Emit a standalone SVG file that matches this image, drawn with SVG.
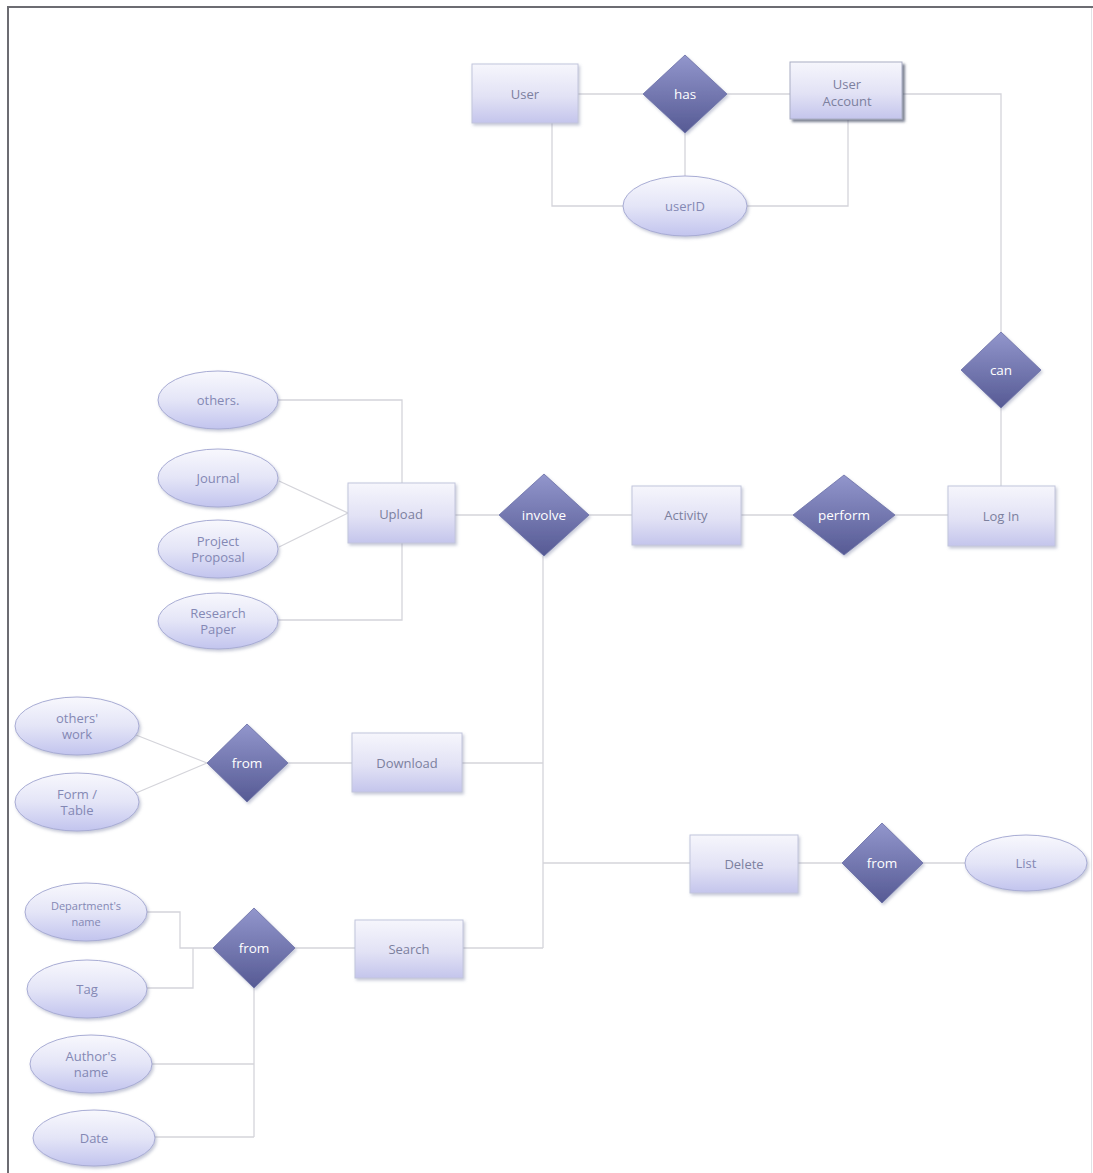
<svg xmlns="http://www.w3.org/2000/svg" width="1093" height="1173" viewBox="0 0 1093 1173">
  <defs>
    <linearGradient id="gEntity" x1="0" y1="0" x2="0" y2="1">
      <stop offset="0" stop-color="#f6f6fc"/>
      <stop offset="0.55" stop-color="#e2e2f5"/>
      <stop offset="1" stop-color="#c4c5ec"/>
    </linearGradient>
    <linearGradient id="gRel" x1="0" y1="0" x2="0" y2="1">
      <stop offset="0" stop-color="#9296cc"/>
      <stop offset="1" stop-color="#565a94"/>
    </linearGradient>
    <linearGradient id="gAttr" x1="0" y1="0" x2="0" y2="1">
      <stop offset="0" stop-color="#f8f8fd"/>
      <stop offset="0.5" stop-color="#e4e5f7"/>
      <stop offset="1" stop-color="#c2c4ee"/>
    </linearGradient>
    <filter id="shadow" x="-10%" y="-10%" width="125%" height="130%">
      <feDropShadow dx="1.5" dy="2" stdDeviation="1.5" flood-color="#8088a8" flood-opacity="0.45"/>
    </filter>
    <filter id="shadowDark" x="-10%" y="-10%" width="125%" height="130%">
      <feDropShadow dx="2.5" dy="2.5" stdDeviation="1" flood-color="#50566e" flood-opacity="0.75"/>
    </filter>
  </defs>
  <style>
    .frame { fill: none; stroke: #6c6c72; stroke-width: 2; }
    .edge { fill: none; stroke: #d4d4da; stroke-width: 1.3; }
    .entity { fill: url(#gEntity); stroke: #c2c5dc; stroke-width: 1; filter: url(#shadow); }
    .entity-dark { fill: url(#gEntity); stroke: #a9adc4; stroke-width: 1; filter: url(#shadowDark); }
    .rel { fill: url(#gRel); stroke: #6a6ea6; stroke-width: 0.8; filter: url(#shadow); }
    .attr { fill: url(#gAttr); stroke: #a8acd4; stroke-width: 1; filter: url(#shadow); }
    text { font-family: "Open Sans", "Liberation Sans", sans-serif; font-size: 13px; text-anchor: middle; dominant-baseline: central; }
    .t-entity { fill: #7c809e; }
    .t-rel { fill: #ffffff; font-size: 13.5px; }
    .t-attr { fill: #8488b4; }
    .t-small { font-size: 11px; }
  </style>

  <rect width="1093" height="1173" fill="#ffffff"/>
  <path class="frame" d="M8,1173 V7 H1093"/>
  <line x1="1091.5" y1="8" x2="1091.5" y2="1173" stroke="#e2e2e6" stroke-width="1"/>

  <g id="connectors">
    <!-- User / has / User Account / userID -->
    <path class="edge" d="M578,94 H643"/>
    <path class="edge" d="M727,94 H790"/>
    <path class="edge" d="M685,133 V176"/>
    <path class="edge" d="M552,123 V206 H623"/>
    <path class="edge" d="M848,120 V206 H747"/>
    <!-- User Account to Log In via can -->
    <path class="edge" d="M903,94 H1001 V332"/>
    <path class="edge" d="M1001,408 V486"/>
    <!-- main row -->
    <path class="edge" d="M455,515 H499"/>
    <path class="edge" d="M589,515 H632"/>
    <path class="edge" d="M741,515 H793"/>
    <path class="edge" d="M895,515 H948"/>
    <!-- Upload attributes -->
    <path class="edge" d="M278,400 H402 V483"/>
    <path class="edge" d="M279,481 L348,513"/>
    <path class="edge" d="M279,547 L348,513"/>
    <path class="edge" d="M278,620 H402 V543"/>
    <!-- involve trunk -->
    <path class="edge" d="M543,556 V948"/>
    <path class="edge" d="M462,763 H543"/>
    <path class="edge" d="M543,863 H690"/>
    <path class="edge" d="M463,948 H543"/>
    <!-- Download branch -->
    <path class="edge" d="M288,763 H352"/>
    <path class="edge" d="M136,735 L207,763"/>
    <path class="edge" d="M136,793 L207,763"/>
    <!-- Delete branch -->
    <path class="edge" d="M798,863 H842"/>
    <path class="edge" d="M923,863 H965"/>
    <!-- Search branch -->
    <path class="edge" d="M295,948 H355"/>
    <path class="edge" d="M147,912 H180 V948 H213"/>
    <path class="edge" d="M147,988 H193 V948"/>
    <path class="edge" d="M254,988 V1137"/>
    <path class="edge" d="M152,1064 H254"/>
    <path class="edge" d="M155,1137 H254"/>
  </g>

  <g id="user">
    <rect class="entity" x="472" y="64" width="106" height="59"/>
    <text class="t-entity" x="525" y="94">User</text>
  </g>
  <g id="has">
    <polygon class="rel" points="685,55 727,94 685,133 643,94"/>
    <text class="t-rel" x="685" y="94">has</text>
  </g>
  <g id="user-account">
    <rect class="entity-dark" x="790" y="62" width="112" height="57"/>
    <text class="t-entity" x="847" y="84">User</text>
    <text class="t-entity" x="847" y="101">Account</text>
  </g>
  <g id="userid">
    <ellipse class="attr" cx="685" cy="206" rx="62" ry="30"/>
    <text class="t-attr" x="685" y="206">userID</text>
  </g>
  <g id="can">
    <polygon class="rel" points="1001,332 1041,370 1001,408 961,370"/>
    <text class="t-rel" x="1001" y="370">can</text>
  </g>

  <g id="upload">
    <rect class="entity" x="348" y="483" width="107" height="60"/>
    <text class="t-entity" x="401" y="514">Upload</text>
  </g>
  <g id="involve">
    <polygon class="rel" points="544,474 589,515 544,556 499,515"/>
    <text class="t-rel" x="544" y="515">involve</text>
  </g>
  <g id="activity">
    <rect class="entity" x="632" y="486" width="109" height="59"/>
    <text class="t-entity" x="686" y="515">Activity</text>
  </g>
  <g id="perform">
    <polygon class="rel" points="844,475 895,515 844,555 793,515"/>
    <text class="t-rel" x="844" y="515">perform</text>
  </g>
  <g id="log-in">
    <rect class="entity" x="948" y="486" width="107" height="60"/>
    <text class="t-entity" x="1001" y="516">Log In</text>
  </g>

  <g id="others">
    <ellipse class="attr" cx="218" cy="400" rx="60" ry="29"/>
    <text class="t-attr" x="218" y="400">others.</text>
  </g>
  <g id="journal">
    <ellipse class="attr" cx="218" cy="478" rx="60" ry="29"/>
    <text class="t-attr" x="218" y="478">Journal</text>
  </g>
  <g id="project-proposal">
    <ellipse class="attr" cx="218" cy="549" rx="60" ry="29"/>
    <text class="t-attr" x="218" y="541">Project</text>
    <text class="t-attr" x="218" y="557">Proposal</text>
  </g>
  <g id="research-paper">
    <ellipse class="attr" cx="218" cy="621" rx="60" ry="28"/>
    <text class="t-attr" x="218" y="613">Research</text>
    <text class="t-attr" x="218" y="629">Paper</text>
  </g>

  <g id="others-work">
    <ellipse class="attr" cx="77" cy="726" rx="62" ry="29"/>
    <text class="t-attr" x="77" y="718">others'</text>
    <text class="t-attr" x="77" y="734">work</text>
  </g>
  <g id="form-table">
    <ellipse class="attr" cx="77" cy="802" rx="62" ry="29"/>
    <text class="t-attr" x="77" y="794">Form /</text>
    <text class="t-attr" x="77" y="810">Table</text>
  </g>
  <g id="from-download">
    <polygon class="rel" points="247,724 288,763 247,802 207,763"/>
    <text class="t-rel" x="247" y="763">from</text>
  </g>
  <g id="download">
    <rect class="entity" x="352" y="733" width="110" height="59"/>
    <text class="t-entity" x="407" y="763">Download</text>
  </g>

  <g id="delete">
    <rect class="entity" x="690" y="835" width="108" height="58"/>
    <text class="t-entity" x="744" y="864">Delete</text>
  </g>
  <g id="from-delete">
    <polygon class="rel" points="882,823 923,863 882,903 842,863"/>
    <text class="t-rel" x="882" y="863">from</text>
  </g>
  <g id="list">
    <ellipse class="attr" cx="1026" cy="863" rx="61" ry="28"/>
    <text class="t-attr" x="1026" y="863">List</text>
  </g>

  <g id="departments-name">
    <ellipse class="attr" cx="86" cy="912" rx="61" ry="29"/>
    <text class="t-attr t-small" x="86" y="905">Department's</text>
    <text class="t-attr t-small" x="86" y="921">name</text>
  </g>
  <g id="tag">
    <ellipse class="attr" cx="87" cy="989" rx="60" ry="29"/>
    <text class="t-attr" x="87" y="989">Tag</text>
  </g>
  <g id="authors-name">
    <ellipse class="attr" cx="91" cy="1064" rx="61" ry="29"/>
    <text class="t-attr" x="91" y="1056">Author's</text>
    <text class="t-attr" x="91" y="1072">name</text>
  </g>
  <g id="date">
    <ellipse class="attr" cx="94" cy="1138" rx="61" ry="28"/>
    <text class="t-attr" x="94" y="1138">Date</text>
  </g>
  <g id="from-search">
    <polygon class="rel" points="254,908 295,948 254,988 213,948"/>
    <text class="t-rel" x="254" y="948">from</text>
  </g>
  <g id="search">
    <rect class="entity" x="355" y="920" width="108" height="58"/>
    <text class="t-entity" x="409" y="949">Search</text>
  </g>
</svg>
